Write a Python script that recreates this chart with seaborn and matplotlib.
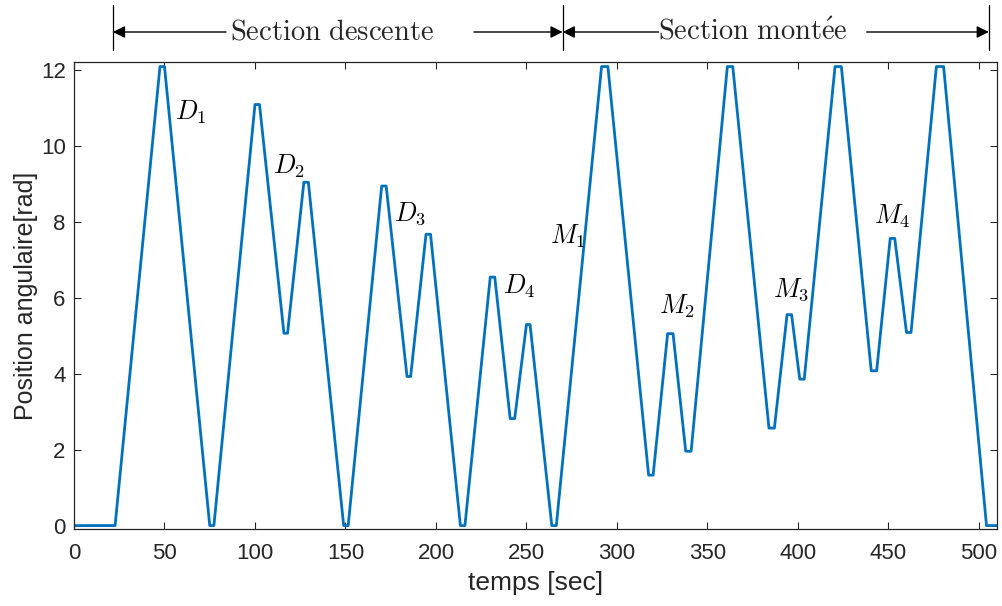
import numpy as np
import pandas as pd
import matplotlib
matplotlib.use("Agg")
import matplotlib.pyplot as plt
import matplotlib.transforms as mtransforms
from matplotlib import font_manager
import seaborn as sns

# ---- data ----
temps = [0, 22.7, 47.5, 50, 75, 77.3, 100, 102.5, 116, 118, 127, 129.5,
         149, 151.5, 170, 172.5, 184, 186, 194.5, 197, 213.5, 216, 230, 232.5,
         241, 243.5, 250, 252, 264, 266.5, 291.5, 295, 317.5, 320, 328, 331,
         338, 341, 361, 364, 384, 387, 394, 396.5, 401, 403.5, 420.5, 424,
         440.5, 443.5, 451, 453.5, 460, 462.5, 476.5, 480.5, 504.2, 510]
position = [0, 0, 12.1, 12.1, 0, 0, 11.1, 11.1, 5.07, 5.07, 9.05, 9.05,
            0, 0, 8.95, 8.95, 3.93, 3.93, 7.68, 7.68, 0, 0, 6.55, 6.55,
            2.82, 2.82, 5.3, 5.3, 0, 0, 12.1, 12.1, 1.33, 1.33, 5.06, 5.06,
            1.96, 1.96, 12.1, 12.1, 2.57, 2.57, 5.56, 5.56, 3.86, 3.86, 12.1, 12.1,
            4.08, 4.08, 7.57, 7.57, 5.09, 5.09, 12.1, 12.1, 0, 0]

labels = [r"$D_1$", r"$D_2$", r"$D_3$", r"$D_4$", r"$M_1$", r"$M_2$", r"$M_3$", r"$M_4$"]
label_t = [56, 110, 177, 237.2, 263, 323.4, 386, 442]
label_v = [10.7, 9.27, 8.03, 6.12, 7.43, 5.59, 6.05, 7.96]

xticks = [0, 50, 100, 150, 200, 250, 300, 350, 400, 450, 500]
yticks = [0, 2, 4, 6, 8, 10, 12]

sections = [r"$\mathrm{Section\ descente}$", r"$\mathrm{Section\ mont\acute{e}e}$"]
section_bounds = [21.5, 270, 505.5]

# ---- style ----
sns.set_theme(style="white")
names = {f.name for f in font_manager.fontManager.ttflist}
sans = "Liberation Sans Narrow" if "Liberation Sans Narrow" in names else "Liberation Sans"
plt.rcParams["font.family"] = [sans, "DejaVu Sans"]
plt.rcParams["mathtext.fontset"] = "cm"

axis_col = "#262626"
fig = plt.figure(figsize=(10.03, 6.06), dpi=100)
ax = fig.add_axes([74 / 1003, 77 / 606, (997 - 74) / 1003, (529 - 62) / 606])

df = pd.DataFrame({"temps": temps, "position": position})
sns.lineplot(data=df, x="temps", y="position", ax=ax, color="#0072BD",
             linewidth=2.0, estimator=None, sort=False)
for line in ax.lines:
    line.set_solid_joinstyle("round")

ax.set_xlim(0, 510)
ax.set_ylim(-0.09, 12.22)
ax.set_xticks(xticks)
ax.set_yticks(yticks)
ax.tick_params(direction="in", length=5, width=0.8, colors=axis_col,
               labelsize=16, top=True, right=True, bottom=True, left=True,
               pad=6)
ax.tick_params(axis="x", labeltop=False, pad=10)
ax.tick_params(axis="y", labelright=False)
for sp in ax.spines.values():
    sp.set_color(axis_col)
    sp.set_linewidth(0.9)
    sp.set_visible(True)

ax.set_xlabel("temps [sec]", fontsize=19, color=axis_col, labelpad=5)
ax.set_ylabel("Position angulaire[rad]", fontsize=18, color=axis_col, labelpad=2)

for lab, t, v in zip(labels, label_t, label_v):
    ax.text(t, v, lab, fontsize=19, ha="left", va="baseline", color="black")

# ---- top section annotations ----
trans = mtransforms.blended_transform_factory(ax.transData, fig.transFigure)
y_arrow = 1 - 32 / 606
for xb in section_bounds:
    ax.plot([xb, xb], [1 - 5 / 606, 1 - 50 / 606], transform=trans, color="black",
            linewidth=0.9, clip_on=False)

arrow_kw = dict(arrowstyle="-|>", color="black", lw=1.0, mutation_scale=18,
                shrinkA=0, shrinkB=0)
# descente
ax.annotate("", xy=(section_bounds[0], y_arrow), xytext=(84, y_arrow),
            xycoords=trans, textcoords=trans, arrowprops=arrow_kw)
ax.annotate("", xy=(section_bounds[1], y_arrow), xytext=(221, y_arrow),
            xycoords=trans, textcoords=trans, arrowprops=arrow_kw)
ax.text((section_bounds[0] + section_bounds[1]) / 2 - 3, y_arrow, sections[0],
        transform=trans, fontsize=20.5, ha="center", va="center")
# montee
ax.annotate("", xy=(section_bounds[1], y_arrow), xytext=(323, y_arrow),
            xycoords=trans, textcoords=trans, arrowprops=arrow_kw)
ax.annotate("", xy=(section_bounds[2], y_arrow), xytext=(438, y_arrow),
            xycoords=trans, textcoords=trans, arrowprops=arrow_kw)
ax.text(375, y_arrow, sections[1], transform=trans, fontsize=20.5,
        ha="center", va="center")

fig.savefig("out.png", dpi=100, facecolor="white")
